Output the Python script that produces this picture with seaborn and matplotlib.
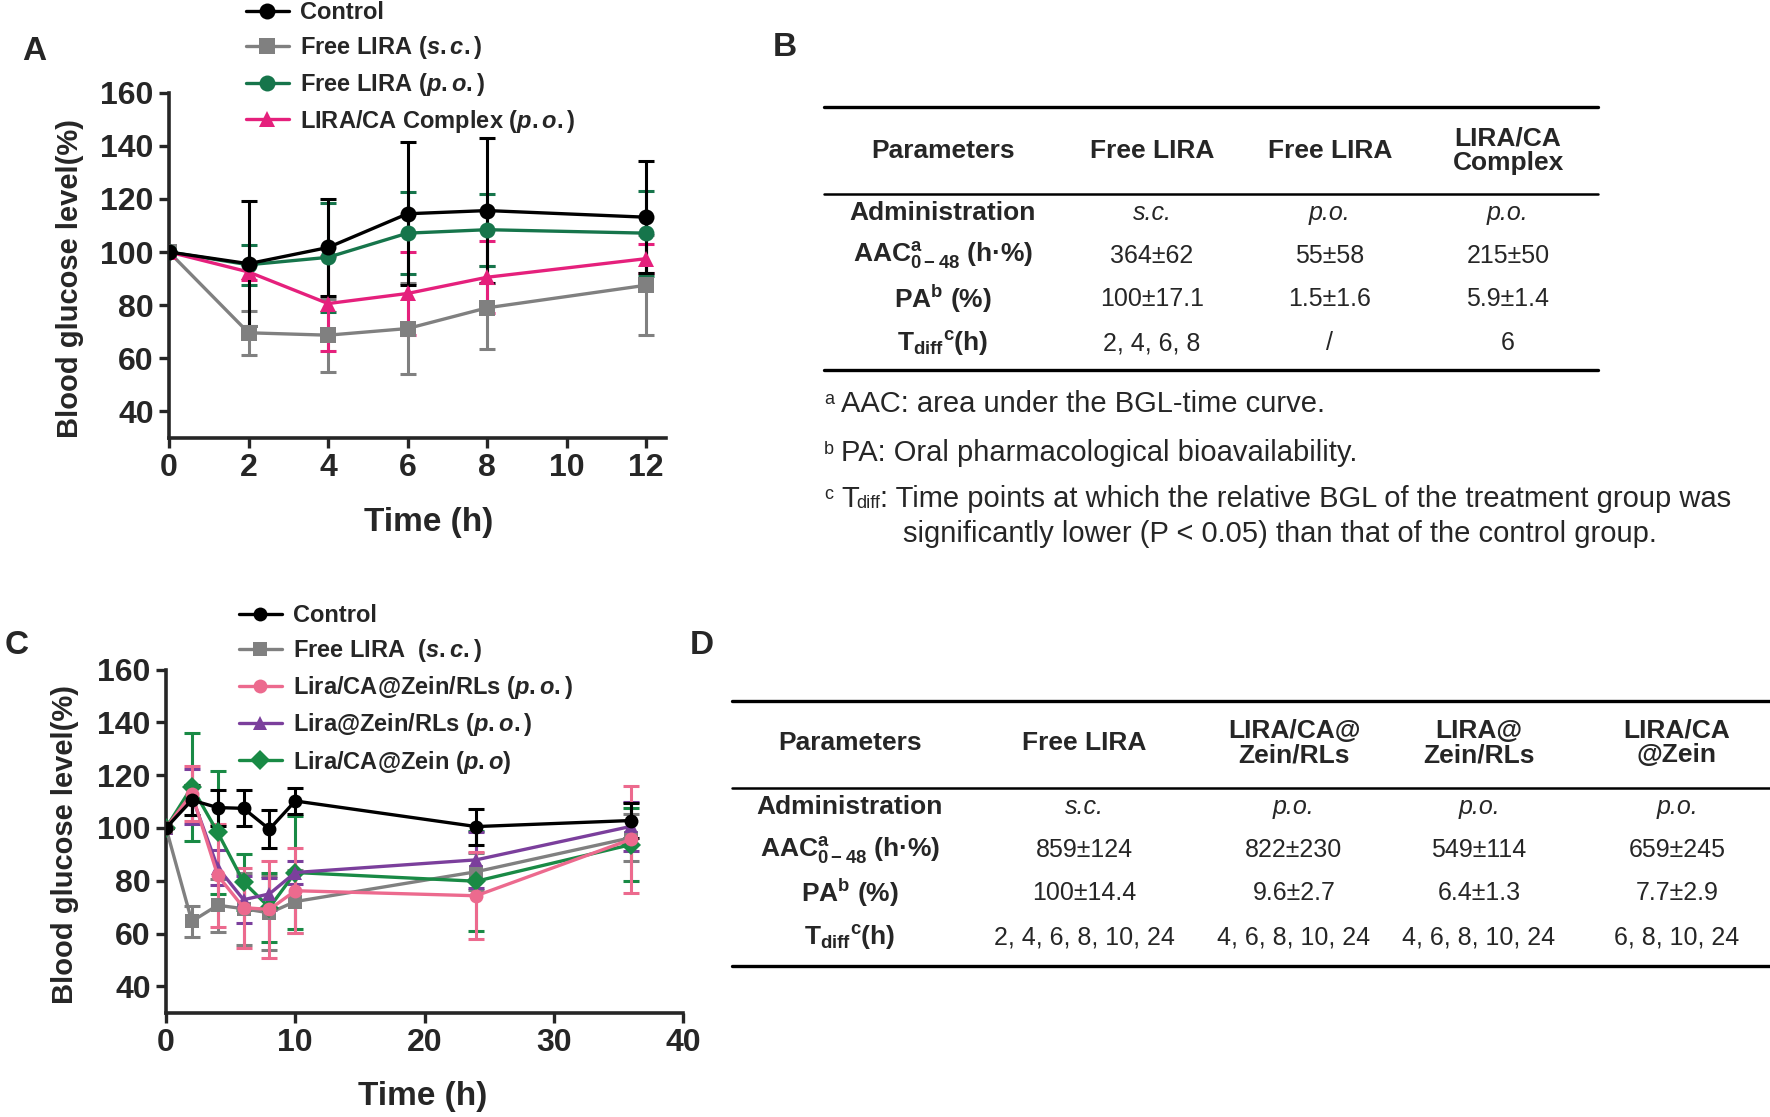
import matplotlib
matplotlib.use('Agg')
import matplotlib.pyplot as plt
import seaborn as sns
from matplotlib.lines import Line2D

# ---- panel A data ----
time_a = [0, 2, 4, 6, 8, 12]
ctrl_a = [100, 95.6, 101.7, 114.4, 115.6, 113.1]
ctrl_a_sd = [0, 23.5, 18.3, 27.0, 27.2, 21.0]
sc_a = [100, 69.6, 68.7, 71.2, 79.0, 87.5]
sc_a_sd = [0, 8.3, 13.7, 17.3, 15.6, 18.8]
po_a = [100, 95.2, 98.0, 107.1, 108.4, 107.1]
po_a_sd = [0, 7.5, 20.5, 15.5, 13.5, 16.0]
cx_a = [100, 92.5, 80.6, 84.4, 90.5, 97.5]
cx_a_sd = [0, 3.0, 17.9, 15.7, 13.6, 5.5]
labels_a = ['Control', r'Free LIRA ($s.c.$)', r'Free LIRA ($p.o.$)', r'LIRA/CA Complex ($p.o.$)']

# ---- panel C data ----
time_c = [0, 2, 4, 6, 8, 10, 24, 36]
ctrl_c = [100, 110.5, 107.7, 107.4, 99.5, 110.2, 100.5, 102.8]
ctrl_c_sd = [0, 5.8, 6.8, 6.8, 7.3, 5.0, 6.8, 6.5]
sc_c = [100, 64.6, 70.7, 69.4, 67.8, 72.1, 83.4, 96.3]
sc_c_sd = [0, 6.0, 10.0, 13.7, 14.0, 12.0, 7.0, 9.0]
carls_c = [100, 113.0, 82.0, 69.8, 69.1, 76.2, 74.3, 95.7]
carls_c_sd = [0, 10.5, 19.5, 15.2, 18.5, 16.0, 16.5, 20.3]
rls_c = [100, 112.0, 85.0, 72.8, 75.0, 83.1, 87.9, 100.6]
rls_c_sd = [0, 10.5, 6.5, 9.0, 6.0, 4.5, 10.5, 9.4]
zein_c = [100, 115.5, 98.3, 79.5, 69.8, 83.1, 79.8, 93.7]
zein_c_sd = [0, 20.5, 23.3, 10.5, 13.0, 21.5, 19.0, 14.0]
labels_c = ['Control', r'Free LIRA  ($s.c.$)', r'Lira/CA@Zein/RLs ($p.o.$)',
            r'Lira@Zein/RLs ($p.o.$)', r'Lira/CA@Zein ($p.o$)']

# ---- table B ----
cols_b = ['Parameters', 'Free LIRA', 'Free LIRA', 'LIRA/CA\nComplex']
admin_b = ['s.c.', 'p.o.', 'p.o.']
aac_b = ['364±62', '55±58', '215±50']
pa_b = ['100±17.1', '1.5±1.6', '5.9±1.4']
tdiff_b = ['2, 4, 6, 8', '/', '6']

# ---- table D ----
cols_d = ['Parameters', 'Free LIRA', 'LIRA/CA@\nZein/RLs', 'LIRA@\nZein/RLs', 'LIRA/CA\n@Zein']
admin_d = ['s.c.', 'p.o.', 'p.o.', 'p.o.']
aac_d = ['859±124', '822±230', '549±114', '659±245']
pa_d = ['100±14.4', '9.6±2.7', '6.4±1.3', '7.7±2.9']
tdiff_d = ['2, 4, 6, 8, 10, 24', '4, 6, 8, 10, 24', '4, 6, 8, 10, 24', '6, 8, 10, 24']

row_labels = ['Administration', r'AAC$^{\rm a}_{\rm 0-48}$ (h·%)', r'PA$^{\rm b}$ (%)',
              r'T$_{\rm diff}$$^{\rm c}$(h)']

sns.set_style('ticks')
plt.rcParams['font.family'] = ['Liberation Sans', 'DejaVu Sans']
plt.rcParams['mathtext.fontset'] = 'custom'
plt.rcParams['mathtext.rm'] = 'Liberation Sans:bold'
plt.rcParams['mathtext.it'] = 'Liberation Sans:italic:bold'
plt.rcParams['mathtext.bf'] = 'Liberation Sans:bold'

W, H = 1770, 1117
fig = plt.figure(figsize=(W / 100, H / 100), dpi=100)


def fx(x):
    return x / W


def fy(y):
    return 1 - y / H


def draw_curves(ax, t, series, colors, markers, msize):
    handles = []
    for (y, sd), c, m in zip(series, colors, markers):
        ax.errorbar(t, y, yerr=sd, fmt='none', ecolor=c, elinewidth=2.2,
                    capsize=5.5, capthick=2.2, zorder=2)
        sns.lineplot(x=t, y=y, ax=ax, color=c, marker=m, markersize=msize,
                     markeredgewidth=0, linewidth=2.4, zorder=3)
        handles.append(Line2D([], [], color=c, marker=m, markersize=msize,
                              markeredgewidth=0, linewidth=2.4))
    return handles


def style_axes(ax, xticks, xmax):
    ax.set_xlim(0, xmax)
    ax.set_ylim(30, 160)
    ax.set_xticks(xticks)
    ax.set_yticks([40, 60, 80, 100, 120, 140, 160])
    sns.despine(ax=ax)
    for s in ['left', 'bottom']:
        ax.spines[s].set_linewidth(2.6)
    ax.tick_params(width=2.4, length=7, labelsize=23, pad=4)
    for lab in ax.get_xticklabels() + ax.get_yticklabels():
        lab.set_fontweight('bold')
    ax.set_xlabel('')
    ax.set_ylabel('')


# ---- panel A ----
ax_a = fig.add_axes([fx(169), fy(438), (666 - 169) / W, (438 - 92.6) / H])
cols_a = ['#000000', '#808080', '#16754b', '#e5207c']
h_a = draw_curves(ax_a, time_a,
                  [(sc_a, sc_a_sd), (po_a, po_a_sd), (cx_a, cx_a_sd), (ctrl_a, ctrl_a_sd)],
                  cols_a[1:] + cols_a[:1], ['s', 'o', '^', 'o'], 11.5)
h_a = h_a[-1:] + h_a[:-1]
style_axes(ax_a, [0, 2, 4, 6, 8, 10, 12], 12.5)
ax_a.legend(h_a, labels_a, loc='upper left', bbox_to_anchor=(fx(246), fy(1)),
            bbox_transform=fig.transFigure, frameon=False, borderpad=0,
            borderaxespad=0, handlelength=1.8, handletextpad=0.5,
            labelspacing=0.42, prop={'size': 17, 'weight': 'bold'})

# ---- panel C ----
ax_c = fig.add_axes([fx(166), fy(1012.7), (683 - 166) / W, (1012.7 - 669.5) / H])
cols_c = ['#000000', '#808080', '#ec6a8e', '#7b3f9c', '#198a45']
h_c = draw_curves(ax_c, time_c,
                  [(sc_c, sc_c_sd), (zein_c, zein_c_sd), (rls_c, rls_c_sd),
                   (carls_c, carls_c_sd), (ctrl_c, ctrl_c_sd)],
                  [cols_c[1], cols_c[4], cols_c[3], cols_c[2], cols_c[0]],
                  ['s', 'D', '^', 'o', 'o'], 10)
h_c = [h_c[4], h_c[0], h_c[3], h_c[2], h_c[1]]
style_axes(ax_c, [0, 10, 20, 30, 40], 40)
ax_c.legend(h_c, labels_c, loc='upper left', bbox_to_anchor=(fx(239), fy(604)),
            bbox_transform=fig.transFigure, frameon=False, borderpad=0,
            borderaxespad=0, handlelength=1.8, handletextpad=0.5,
            labelspacing=0.43, prop={'size': 17, 'weight': 'bold'})

# axis titles
for x, y in [(70, 279), (65, 845)]:
    fig.text(fx(x), fy(y), 'Blood glucose level(%)', rotation=90, ha='center',
             va='center', fontsize=21, fontweight='bold')
for x, y in [(429, 522), (423, 1097)]:
    fig.text(fx(x), fy(y), 'Time (h)', ha='center', va='center', fontsize=24,
             fontweight='bold')

# panel letters
for lab, x, y in [('A', 34, 51), ('B', 785, 47), ('C', 17, 646), ('D', 702, 646)]:
    fig.text(fx(x), fy(y), lab, ha='center', va='center', fontsize=24,
             fontweight='bold')


def rule(x0, x1, y, lw):
    fig.add_artist(Line2D([fx(x0), fx(x1)], [fy(y), fy(y)], color='black',
                          linewidth=lw, transform=fig.transFigure))


def table(cols, col_x, head_y, row_y, values, rules, x0, x1):
    rule(x0, x1, rules[0], 2.4)
    rule(x0, x1, rules[1], 1.8)
    rule(x0, x1, rules[2], 2.4)
    for txt, x in zip(cols, col_x):
        fig.text(fx(x), fy(head_y), txt, ha='center', va='center', fontsize=19,
                 fontweight='bold', linespacing=1.05)
    for lab, y, vals in zip(row_labels, row_y, values):
        fig.text(fx(col_x[0]), fy(y), lab, ha='center', va='center', fontsize=19,
                 fontweight='bold')
        for v, x in zip(vals, col_x[1:]):
            fig.text(fx(x), fy(y), v, ha='center', va='center', fontsize=18,
                     fontstyle='italic' if lab == 'Administration' else 'normal')


table(cols_b, [943, 1152, 1330, 1508], 151, [213, 256, 299, 343],
      [admin_b, aac_b, pa_b, tdiff_b], [107, 194, 370], 824, 1598)
table(cols_d, [850, 1084, 1294, 1479, 1677], 743, [807, 850, 893, 937],
      [admin_d, aac_d, pa_d, tdiff_d], [701, 788, 966], 732, 1770)

# footnotes
notes = [('a', 404, 'AAC: area under the BGL-time curve.'),
         ('b', 453, 'PA: Oral pharmacological bioavailability.')]
for s, y, t in notes:
    fig.text(fx(824), fy(y - 4), s, ha='left', va='center', fontsize=13)
    fig.text(fx(841), fy(y), t, ha='left', va='center', fontsize=21)
fig.text(fx(824), fy(495), 'c', ha='left', va='center', fontsize=13)
fig.text(fx(841), fy(499), 'T', ha='left', va='center', fontsize=21)
fig.text(fx(856), fy(504), 'diff', ha='left', va='center', fontsize=13)
fig.text(fx(880), fy(499), ': Time points at which the relative BGL of the treatment group was',
         ha='left', va='center', fontsize=21)
fig.text(fx(903), fy(534), 'significantly lower (P < 0.05) than that of the control group.',
         ha='left', va='center', fontsize=21)

fig.savefig('out.png', dpi=100)
